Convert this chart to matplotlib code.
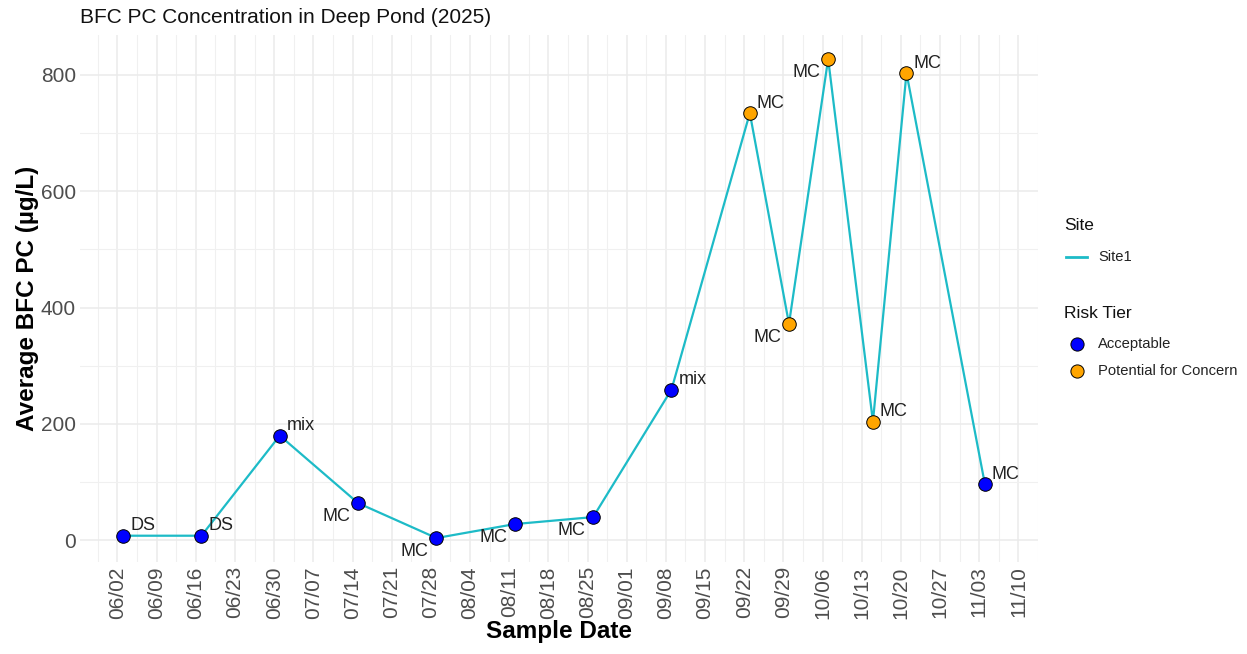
import matplotlib
matplotlib.use("Agg")
import matplotlib.pyplot as plt
import matplotlib.dates as mdates
from matplotlib.lines import Line2D
import pandas as pd

plt.rcParams['font.family'] = ['Liberation Sans', 'DejaVu Sans']

# ---- data ----
dates = ["2025-06-03", "2025-06-17", "2025-07-01", "2025-07-15", "2025-07-29",
         "2025-08-12", "2025-08-26", "2025-09-09", "2025-09-23", "2025-09-30",
         "2025-10-07", "2025-10-15", "2025-10-21", "2025-11-04"]
values = [8, 8, 180, 64, 4, 28, 40, 259, 734, 372, 827, 204, 803, 97]
labels = ["DS", "DS", "mix", "MC", "MC", "MC", "MC", "mix", "MC", "MC", "MC", "MC", "MC", "MC"]
risk = ["Acceptable"] * 8 + ["Potential for Concern"] * 5 + ["Acceptable"]
tick_start = "2025-06-02"
tick_end = "2025-11-10"
site_names = ["Site1"]
risk_names = ["Acceptable", "Potential for Concern"]

# ---- styles ----
line_color = "#1DBBC7"
risk_colors = ["#0000FF", "#FFA500"]
label_side = ["r", "r", "r", "l", "l", "l", "l", "r", "r", "l", "l", "r", "r", "r"]

d = pd.to_datetime(dates)
W, H = 1247, 654
fig = plt.figure(figsize=(W / 100, H / 100), dpi=100)
ax = fig.add_axes([80 / W, 1 - 562 / H, (1038 - 80) / W, (562 - 35) / H])

ax.plot(d, values, color=line_color, lw=1.6, zorder=2)
for name, col in zip(risk_names, risk_colors):
    idx = [i for i, rr in enumerate(risk) if rr == name]
    ax.scatter(d[idx], [values[i] for i in idx], s=95, color=col,
               edgecolor="black", linewidth=0.7, zorder=3)

for xi, yi, lab, p in zip(d, values, labels, label_side):
    if p == "r":
        ax.annotate(lab, (xi, yi), xytext=(5, 7), textcoords="offset points",
                    ha="left", va="center", fontsize=13, color="#222222", zorder=4)
    else:
        ax.annotate(lab, (xi, yi), xytext=(-5.5, -9.5), textcoords="offset points",
                    ha="right", va="center", fontsize=13, color="#222222", zorder=4)

# ggplot-like expansion
x0, x1 = mdates.date2num(d.min()), mdates.date2num(d.max())
xr = x1 - x0
ax.set_xlim(x0 - 0.05 * xr, x1 + 0.05 * xr)
ymin, ymax = min(values), max(values)
yr = ymax - ymin
ax.set_ylim(ymin - 0.05 * yr, ymax + 0.05 * yr)

ticks = pd.date_range(tick_start, tick_end, freq="7D")
ax.set_xticks(ticks)
ax.set_xticklabels([t.strftime("%m/%d") for t in ticks], rotation=90)
minor = (ticks - pd.Timedelta(days=3.5)).append(pd.DatetimeIndex([ticks[-1] + pd.Timedelta(days=3.5)]))
ax.set_xticks(minor, minor=True)
ax.set_yticks([0, 200, 400, 600, 800])
ax.set_yticks([100, 300, 500, 700], minor=True)

ax.grid(True, which="major", color="#EBEBEB", lw=1.1)
ax.grid(True, which="minor", color="#F0F0F0", lw=0.8)
ax.set_axisbelow(True)
for s in ax.spines.values():
    s.set_visible(False)
ax.tick_params(which="both", length=0)
ax.tick_params(axis="both", labelsize=15, labelcolor="#4D4D4D", pad=3)

ax.set_xlabel("Sample Date", fontsize=17.5, fontweight="bold", labelpad=1)
ax.set_ylabel("Average BFC PC (µg/L)", fontsize=17.5, fontweight="bold", labelpad=1)
ax.set_title("BFC PC Concentration in Deep Pond (2025)", fontsize=15, loc="left",
             pad=8.5, color="#111111")

# ---- legends (built in figure pixel coordinates) ----
def fx(px):
    return px / W

def fy(py):
    return 1 - py / H

fig.text(fx(1064), fy(226), "Site", fontsize=12.5, va="center", ha="left", color="#111111")
fig.add_artist(Line2D([fx(1066), fx(1087)], [fy(257), fy(257)], color=line_color, lw=2,
                      transform=fig.transFigure))
for i, nm in enumerate(site_names):
    fig.text(fx(1098), fy(257 + 27 * i), nm, fontsize=10.6, va="center", ha="left",
             color="#222222")

fig.text(fx(1064), fy(313), "Risk Tier", fontsize=12.5, va="center", ha="left", color="#111111")
for i, (nm, col) in enumerate(zip(risk_names, risk_colors)):
    yy = 344 + 27 * i
    fig.add_artist(Line2D([fx(1077)], [fy(yy)], marker="o", ls="", markersize=9.5,
                          markerfacecolor=col, markeredgecolor="black",
                          markeredgewidth=0.7, transform=fig.transFigure))
    fig.text(fx(1098), fy(yy), nm, fontsize=10.6, va="center", ha="left", color="#222222")

fig.savefig("out.png", dpi=100)
